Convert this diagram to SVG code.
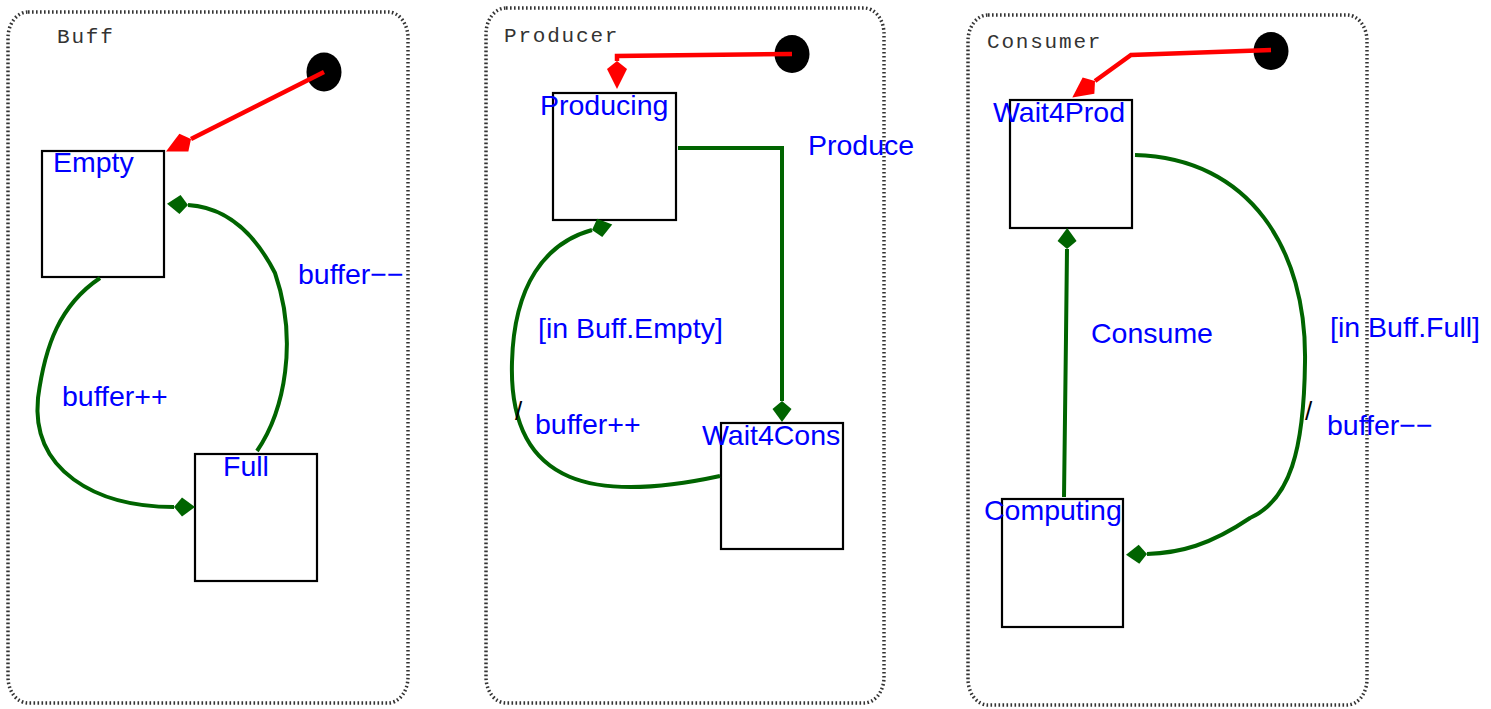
<svg xmlns="http://www.w3.org/2000/svg" width="1491" height="709" viewBox="0 0 1491 709">
  <style>
    .frame { fill: none; stroke: #333; stroke-width: 3.5; stroke-dasharray: 1.6 2.4; }
    .title { font-family: "Liberation Mono", "DejaVu Sans Mono", monospace; font-size: 21px; fill: #333; letter-spacing: 1.8px; }
    .state { fill: #fff; stroke: #000; stroke-width: 2.2; }
    .lbl { font-family: "Liberation Sans", Arial, sans-serif; font-size: 28.5px; fill: #0000ff; }
    .slash { font-family: "Liberation Sans", Arial, sans-serif; font-size: 26px; fill: #000; }
    .init { fill: #000; }
    .tr { fill: none; stroke: #006400; stroke-width: 4; marker-end: url(#dia); }
    .start { fill: none; stroke: #ff0000; stroke-width: 4.5; stroke-linejoin: miter; marker-end: url(#kite); }
  </style>
  <defs>
    <marker id="dia" markerUnits="userSpaceOnUse" markerWidth="24" markerHeight="22" viewBox="-1 -11 24 22" refX="0" refY="0" orient="auto">
      <path d="M0,0 L8,-9.5 L21,0 L8,9.5 Z" fill="#006400"/>
    </marker>
    <marker id="kite" markerUnits="userSpaceOnUse" markerWidth="32" markerHeight="24" viewBox="-1 -12 32 24" refX="0" refY="0" orient="auto">
      <path d="M0,0 L8,-10 L28,0 L8,10 Z" fill="#ff0000"/>
    </marker>
  </defs>

  <rect width="1491" height="709" fill="#fff"/>

  <!-- composite state: Buff -->
  <g id="buff">
    <rect class="frame" x="8" y="12" width="400" height="691" rx="20" ry="26"/>
    <text class="title" x="57" y="43">Buff</text>
    <ellipse class="init" cx="324" cy="72" rx="17.5" ry="19.5"/>
  </g>
  <g id="buff-empty">
    <rect class="state" x="42" y="151" width="122" height="126"/>
    <text class="lbl" x="53" y="172">Empty</text>
  </g>
  <g id="buff-full">
    <rect class="state" x="195" y="454" width="122" height="127"/>
    <text class="lbl" x="223" y="476">Full</text>
  </g>

  <!-- composite state: Producer -->
  <g id="producer">
    <rect class="frame" x="486" y="8" width="398" height="695" rx="20" ry="26"/>
    <text class="title" x="504" y="42">Producer</text>
    <ellipse class="init" cx="792" cy="54" rx="17.5" ry="19"/>
  </g>
  <g id="producer-producing">
    <rect class="state" x="553" y="93" width="123" height="127"/>
    <text class="lbl" x="540" y="115">Producing</text>
  </g>
  <g id="producer-wait4cons">
    <rect class="state" x="721" y="423" width="122" height="126"/>
    <text class="lbl" x="702" y="445">Wait4Cons</text>
  </g>

  <!-- composite state: Consumer -->
  <g id="consumer">
    <rect class="frame" x="968" y="15" width="399" height="690" rx="20" ry="26"/>
    <text class="title" x="987" y="48">Consumer</text>
    <ellipse class="init" cx="1271" cy="51" rx="17.5" ry="19"/>
  </g>
  <g id="consumer-wait4prod">
    <rect class="state" x="1010" y="100" width="122" height="128"/>
    <text class="lbl" x="993" y="122">Wait4Prod</text>
  </g>
  <g id="consumer-computing">
    <rect class="state" x="1002" y="499" width="121" height="128"/>
    <text class="lbl" x="984" y="520">Computing</text>
  </g>

  <!-- transitions -->
  <g id="connectors">
    <!-- initial transitions -->
    <path class="start" d="M324,72 L191,139"/>
    <path class="start" d="M792,54 L617,56 L617,61"/>
    <path class="start" d="M1271,50 L1131,55 L1095,81"/>

    <!-- Buff -->
    <path class="tr" d="M100,278 C 60,305 45,345 38,398 C 31,470 95,507 174,507"/>
    <text class="lbl" x="62" y="406">buffer++</text>
    <path class="tr" d="M257,451 C 285,410 298,340 275,273 C 252,228 222,207 188,205"/>
    <text class="lbl" x="298" y="284">buffer−−</text>

    <!-- Producer -->
    <path class="tr" d="M678,148 L782,148 L782,401"/>
    <text class="lbl" x="808" y="155">Produce</text>
    <path class="tr" d="M720,476 C 600,502 508,490 512,362 C 514,285 545,243 592,230"/>
    <text class="lbl" x="538" y="338">[in Buff.Empty]</text>
    <text class="slash" x="515" y="420">/</text>
    <text class="lbl" x="535" y="434">buffer++</text>

    <!-- Consumer -->
    <path class="tr" d="M1064,497 L1066,337 L1067,249"/>
    <text class="lbl" x="1091" y="343">Consume</text>
    <path class="tr" d="M1135,155 C 1250,158 1307,250 1305,362 C 1304,450 1290,500 1250,518 C 1210,545 1180,553 1147,554"/>
    <text class="lbl" x="1330" y="337">[in Buff.Full]</text>
    <text class="slash" x="1305" y="420">/</text>
    <text class="lbl" x="1327" y="435">buffer−−</text>
  </g>
</svg>
